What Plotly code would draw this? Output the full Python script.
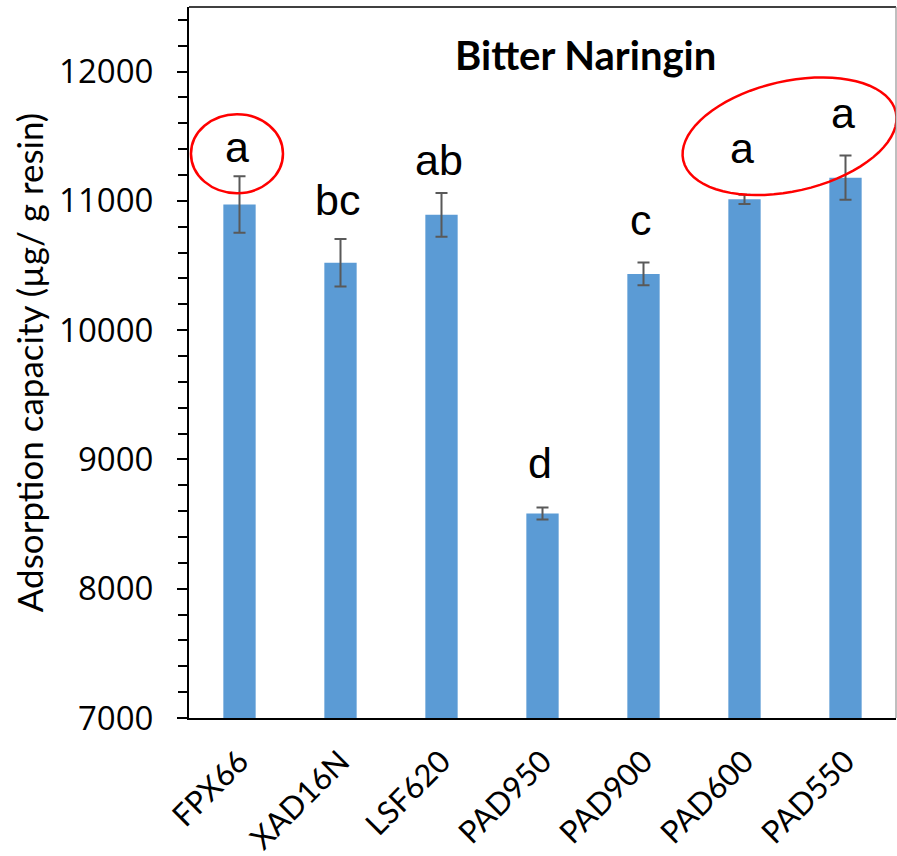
import math
import plotly.graph_objects as go

categories = ["FPX66", "XAD16N", "LSF620", "PAD950", "PAD900", "PAD600", "PAD550"]
capacity = [10972, 10522, 10892, 8582, 10435, 11012, 11180]
capacity_err = [218, 184, 170, 47, 88, 36, 171]
letters = ["a", "bc", "ab", "d", "c", "a", "a"]
letter_baseline = [11296, 10883, 11192, 8851, 10728, 11283, 11554]
y_ticks = [7000, 8000, 9000, 10000, 11000, 12000]

W, H = 897, 856
ML, MR, MT, MB = 189, 1, 7, 138
YMIN, YMAX = 7000, 12500

fig = go.Figure()
fig.add_trace(go.Bar(
    x=categories, y=capacity,
    marker=dict(color="#5B9BD5", line=dict(width=0)),
    error_y=dict(type="data", array=capacity_err, visible=True,
                 color="#595959", thickness=2, width=6),
    width=0.32,
))

for c, t, yb in zip(categories, letters, letter_baseline):
    fig.add_annotation(x=c, y=yb, text=t, showarrow=False, xref="x", yref="y",
                       yanchor="bottom", xshift=-3, yshift=-10,
                       font=dict(family="Liberation Sans, Arial", size=43, color="black"))

fig.add_annotation(x=0.5615, y=0.932, xref="paper", yref="paper", text="<b>Bitter Naringin</b>",
                   showarrow=False, yanchor="middle",
                   font=dict(family="Lato", size=40, color="black"))

# red ellipses (anchored at data positions, sized in pixels)
fig.add_shape(type="circle", xref="x", yref="y", xsizemode="pixel", ysizemode="pixel",
              xanchor=-0.025, yanchor=11365, x0=-46, x1=46, y0=-39.5, y1=39.5,
              line=dict(color="#FF0000", width=2.5))

a, b, phi = 109, 55, math.radians(12.8)
pts = []
for i in range(73):
    t = 2 * math.pi * i / 72
    px = a * math.cos(t) * math.cos(phi) - b * math.sin(t) * math.sin(phi)
    py = a * math.cos(t) * math.sin(phi) + b * math.sin(t) * math.cos(phi)
    pts.append(f"{px:.2f},{py:.2f}")
path = "M" + " L".join(pts) + " Z"
fig.add_shape(type="path", path=path, xref="x", yref="y", xsizemode="pixel", ysizemode="pixel",
              xanchor=5.446, yanchor=11500, line=dict(color="#FF0000", width=2.5))

# frame top and right
fig.add_shape(type="line", xref="paper", yref="paper", x0=0, x1=1, y0=1, y1=1,
              line=dict(color="black", width=1.5))
fig.add_shape(type="line", xref="paper", yref="paper", x0=1, x1=1, y0=0, y1=1,
              line=dict(color="#7f7f7f", width=1))

fig.update_layout(
    width=W, height=H,
    margin=dict(l=ML, r=MR, t=MT, b=MB),
    paper_bgcolor="white", plot_bgcolor="white",
    showlegend=False,
    bargap=0.68,
    font=dict(family="Lato", color="black"),
)
fig.update_xaxes(
    type="category", range=[-0.5, 6.5], automargin=False,
    showline=True, linecolor="black", linewidth=2,
    ticks="", tickangle=-45, ticklabelstandoff=11,
    tickfont=dict(family="Lato", size=31, color="black"),
    showgrid=False, zeroline=False,
)
fig.update_yaxes(
    range=[YMIN, YMAX], tickvals=y_ticks, tickformat="d", automargin=False,
    showline=True, linecolor="black", linewidth=2,
    ticks="outside", ticklen=10, tickwidth=2, tickcolor="black",
    minor=dict(dtick=200, ticks="outside", ticklen=9, tickwidth=2, tickcolor="black", showgrid=False),
    ticklabelstandoff=17,
    tickfont=dict(family="Open Sans", size=33, color="black"),
    showgrid=False, zeroline=False,
    title=dict(text="Adsorption capacity (µg/ g resin)", standoff=5,
               font=dict(family="Lato", size=35, color="black")),
)

fig.write_html("out.html", config={"displayModeBar": False},
               post_script="document.body.style.margin='0px';document.body.style.padding='0px';")
